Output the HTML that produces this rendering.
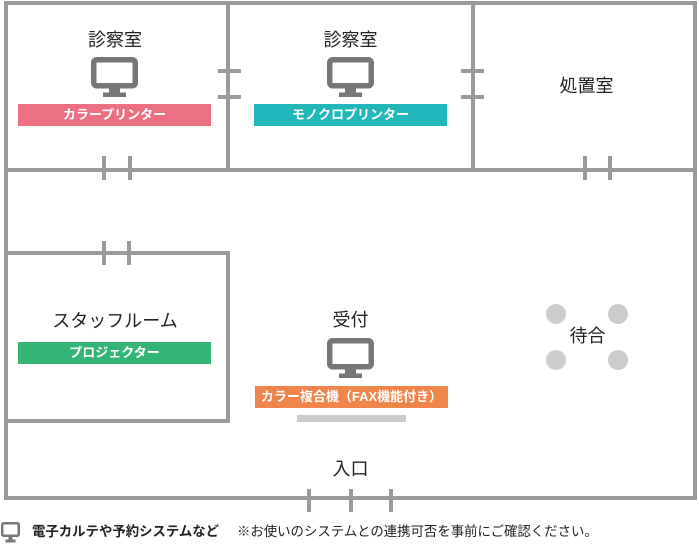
<!DOCTYPE html>
<html><head><meta charset="utf-8">
<style>
html,body{margin:0;padding:0;background:#fff;}
body{width:699px;height:544px;position:relative;overflow:hidden;font-family:"Liberation Sans","Noto Sans CJK JP",sans-serif;}
svg{position:absolute;left:0;top:0;}
.t{position:absolute;color:#222;font-size:18px;height:20px;line-height:20px;text-align:center;white-space:nowrap;}
.bar{position:absolute;height:22px;line-height:22px;color:#fff;font-weight:bold;font-size:13px;text-align:center;white-space:nowrap;}
.leg{position:absolute;top:522px;height:20px;line-height:20px;font-size:13.4px;color:#222;white-space:nowrap;}
</style></head><body>
<svg width="699" height="544" viewBox="0 0 699 544">
<defs>
<g id="mon">
<rect x="2.75" y="2.75" width="41.5" height="26" rx="3" fill="none" stroke="#777" stroke-width="5.5"/>
<rect x="18" y="30" width="11" height="6" fill="#777"/>
<rect x="12" y="35.5" width="23" height="4.5" fill="#777"/>
</g>
</defs>
<g fill="none" stroke="#9a9a9a" stroke-width="4">
<rect x="6" y="3" width="689" height="495"/>
<line x1="6" y1="170" x2="695" y2="170"/>
<line x1="228" y1="3" x2="228" y2="170"/>
<line x1="473" y1="3" x2="473" y2="170"/>
<polyline points="6,253 228,253 228,421 6,421"/>
</g>
<g fill="#9a9a9a">
<!-- doors on vertical walls -->
<rect x="218" y="69" width="23" height="4"/>
<rect x="218" y="95" width="23" height="4"/>
<rect x="461" y="69" width="23" height="4"/>
<rect x="461" y="95" width="23" height="4"/>
<!-- doors on corridor wall -->
<rect x="102" y="156" width="4" height="24"/>
<rect x="128" y="156" width="4" height="24"/>
<rect x="583" y="156" width="4" height="24"/>
<rect x="608" y="156" width="4" height="24"/>
<!-- staff room door -->
<rect x="102" y="241" width="4" height="24"/>
<rect x="127" y="241" width="4" height="24"/>
<!-- entrance -->
<rect x="307" y="489" width="4" height="23"/>
<rect x="349" y="489" width="4" height="23"/>
<rect x="389" y="489" width="4" height="23"/>
</g>
<!-- counter -->
<rect x="297" y="415" width="109" height="7" fill="#cccccc"/>
<!-- waiting chairs -->
<g fill="#cccccc">
<circle cx="556" cy="314" r="10"/>
<circle cx="618" cy="314" r="10"/>
<circle cx="556" cy="360" r="10"/>
<circle cx="618" cy="360" r="10"/>
</g>
<use href="#mon" x="91" y="57"/>
<use href="#mon" x="327" y="57"/>
<use href="#mon" x="327" y="338"/>
<!-- legend icon -->
<g>
<rect x="2.25" y="523.25" width="16.5" height="12.5" rx="1.5" fill="none" stroke="#777" stroke-width="2.5"/>
<rect x="8.5" y="536.5" width="4" height="3" fill="#777"/>
<rect x="5.5" y="539.5" width="10" height="3" fill="#777"/>
</g>
</svg>

<div class="t" style="left:65px;width:100px;top:30px;">診察室</div>
<div class="t" style="left:300px;width:101px;top:30px;">診察室</div>
<div class="t" style="left:536px;width:101px;top:76px;">処置室</div>
<div class="t" style="left:15px;width:200px;top:311px;">スタッフルーム</div>
<div class="t" style="left:300px;width:101px;top:310px;">受付</div>
<div class="t" style="left:537px;width:101px;top:326px;">待合</div>
<div class="t" style="left:300px;width:101px;top:459px;">入口</div>

<div class="bar" style="left:18px;width:193px;top:104px;background:#ec6f82;">カラープリンター</div>
<div class="bar" style="left:254px;width:193px;top:104px;background:#22b8bb;">モノクロプリンター</div>
<div class="bar" style="left:18px;width:193px;top:342px;background:#35b575;">プロジェクター</div>
<div class="bar" style="left:255px;width:193px;top:386px;background:#ef854b;">カラー複合機（FAX機能付き）</div>

<div class="leg" style="left:32px;font-weight:bold;">電子カルテや予約システムなど</div>
<div class="leg" style="left:237px;">※お使いのシステムとの連携可否を事前にご確認ください。</div>
</body></html>
